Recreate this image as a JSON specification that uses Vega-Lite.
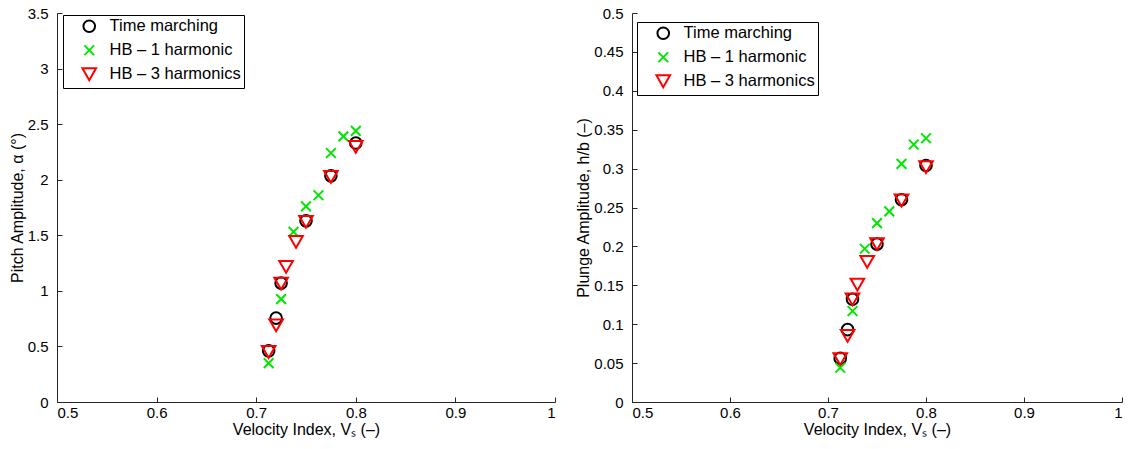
{
  "$schema": "https://vega.github.io/schema/vega-lite/v6.json",
  "background": "white",
  "padding": {"left": 9, "top": 6, "right": 5, "bottom": 5},
  "bounds": "flush",
  "spacing": 77,
  "config": {
    "font": "Liberation Sans",
    "view": {"stroke": null},
    "axis": {
      "grid": false,
      "domainColor": "#262626",
      "tickColor": "#262626",
      "labelColor": "#000000",
      "titleColor": "#000000",
      "labelFontSize": 15,
      "titleFontSize": 16,
      "titleFontWeight": "normal",
      "labelFont": "Liberation Sans",
      "titleFont": "Liberation Sans",
      "tickSize": -5,
      "labelOverlap": false
    },
    "axisX": {"labelPadding": 8, "titlePadding": 1},
    "axisY": {"labelPadding": 14, "titlePadding": 2},
    "legend": {
      "title": null,
      "strokeColor": "#000000",
      "fillColor": "#ffffff",
      "padding": 3,
      "labelFontSize": 16.5,
      "labelFont": "Liberation Sans",
      "labelColor": "#000000",
      "symbolStrokeWidth": 2,
      "labelOffset": 12,
      "rowPadding": 4
    }
  },
  "resolve": {
    "scale": {"color": "independent", "shape": "independent", "size": "independent"},
    "legend": {"color": "independent", "shape": "independent", "size": "independent"}
  },
  "hconcat": [
    {
      "width": 498,
      "height": 389,
      "data": {
        "values": [
          {"x": 0.7125, "y": 0.46, "series": "Time marching"},
          {"x": 0.72, "y": 0.755, "series": "Time marching"},
          {"x": 0.725, "y": 1.07, "series": "Time marching"},
          {"x": 0.75, "y": 1.63, "series": "Time marching"},
          {"x": 0.775, "y": 2.035, "series": "Time marching"},
          {"x": 0.8, "y": 2.33, "series": "Time marching"},
          {"x": 0.7125, "y": 0.35, "series": "HB – 1 harmonic"},
          {"x": 0.725, "y": 0.925, "series": "HB – 1 harmonic"},
          {"x": 0.7375, "y": 1.53, "series": "HB – 1 harmonic"},
          {"x": 0.75, "y": 1.76, "series": "HB – 1 harmonic"},
          {"x": 0.7625, "y": 1.86, "series": "HB – 1 harmonic"},
          {"x": 0.775, "y": 2.24, "series": "HB – 1 harmonic"},
          {"x": 0.7875, "y": 2.39, "series": "HB – 1 harmonic"},
          {"x": 0.8, "y": 2.44, "series": "HB – 1 harmonic"},
          {"x": 0.7125, "y": 0.45, "series": "HB – 3 harmonics"},
          {"x": 0.72, "y": 0.69, "series": "HB – 3 harmonics"},
          {"x": 0.725, "y": 1.065, "series": "HB – 3 harmonics"},
          {"x": 0.73, "y": 1.215, "series": "HB – 3 harmonics"},
          {"x": 0.74, "y": 1.44, "series": "HB – 3 harmonics"},
          {"x": 0.75, "y": 1.62, "series": "HB – 3 harmonics"},
          {"x": 0.775, "y": 2.025, "series": "HB – 3 harmonics"},
          {"x": 0.8, "y": 2.295, "series": "HB – 3 harmonics"}
        ]
      },
      "mark": {"type": "point", "filled": false, "strokeWidth": 2, "opacity": 1},
      "encoding": {
        "x": {
          "field": "x", "type": "quantitative",
          "scale": {"domain": [0.5, 1], "nice": false, "zero": false},
          "axis": {"title": "Velocity Index, Vₛ (–)", "values": [0.5, 0.6, 0.7, 0.8, 0.9, 1], "format": ".1~f"}
        },
        "y": {
          "field": "y", "type": "quantitative",
          "scale": {"domain": [0, 3.5], "nice": false},
          "axis": {"title": "Pitch Amplitude, α (°)", "values": [0, 0.5, 1, 1.5, 2, 2.5, 3, 3.5], "format": ".1~f"}
        },
        "color": {
          "field": "series", "type": "nominal",
          "scale": {"domain": ["Time marching", "HB – 1 harmonic", "HB – 3 harmonics"], "range": ["#000000", "#00e600", "#ff0000"]},
          "legend": {"symbolOffset": 15, "orient": "none", "legendX": 6, "legendY": 2}
        },
        "shape": {
          "field": "series", "type": "nominal",
          "scale": {"domain": ["Time marching", "HB – 1 harmonic", "HB – 3 harmonics"], "range": ["circle", "M-1,-1L1,1M-1,1L1,-1", "triangle-down"]}
        },
        "size": {
          "field": "series", "type": "nominal",
          "scale": {"type": "ordinal", "domain": ["Time marching", "HB – 1 harmonic", "HB – 3 harmonics"], "range": [135, 95, 185]}
        }
      }
    },
    {
      "width": 490,
      "height": 389,
      "data": {
        "values": [
          {"x": 0.7125, "y": 0.056, "series": "Time marching"},
          {"x": 0.72, "y": 0.093, "series": "Time marching"},
          {"x": 0.725, "y": 0.132, "series": "Time marching"},
          {"x": 0.75, "y": 0.203, "series": "Time marching"},
          {"x": 0.775, "y": 0.26, "series": "Time marching"},
          {"x": 0.8, "y": 0.304, "series": "Time marching"},
          {"x": 0.7125, "y": 0.044, "series": "HB – 1 harmonic"},
          {"x": 0.725, "y": 0.117, "series": "HB – 1 harmonic"},
          {"x": 0.7375, "y": 0.197, "series": "HB – 1 harmonic"},
          {"x": 0.75, "y": 0.23, "series": "HB – 1 harmonic"},
          {"x": 0.7625, "y": 0.245, "series": "HB – 1 harmonic"},
          {"x": 0.775, "y": 0.306, "series": "HB – 1 harmonic"},
          {"x": 0.7875, "y": 0.331, "series": "HB – 1 harmonic"},
          {"x": 0.8, "y": 0.339, "series": "HB – 1 harmonic"},
          {"x": 0.7125, "y": 0.055, "series": "HB – 3 harmonics"},
          {"x": 0.72, "y": 0.085, "series": "HB – 3 harmonics"},
          {"x": 0.725, "y": 0.132, "series": "HB – 3 harmonics"},
          {"x": 0.73, "y": 0.151, "series": "HB – 3 harmonics"},
          {"x": 0.74, "y": 0.18, "series": "HB – 3 harmonics"},
          {"x": 0.75, "y": 0.203, "series": "HB – 3 harmonics"},
          {"x": 0.775, "y": 0.259, "series": "HB – 3 harmonics"},
          {"x": 0.8, "y": 0.302, "series": "HB – 3 harmonics"}
        ]
      },
      "mark": {"type": "point", "filled": false, "strokeWidth": 2, "opacity": 1},
      "encoding": {
        "x": {
          "field": "x", "type": "quantitative",
          "scale": {"domain": [0.5, 1], "nice": false, "zero": false},
          "axis": {"title": "Velocity Index, Vₛ (–)", "values": [0.5, 0.6, 0.7, 0.8, 0.9, 1], "format": ".1~f"}
        },
        "y": {
          "field": "y", "type": "quantitative",
          "scale": {"domain": [0, 0.5], "nice": false},
          "axis": {"title": "Plunge Amplitude, h/b (–)", "values": [0, 0.05, 0.1, 0.15, 0.2, 0.25, 0.3, 0.35, 0.4, 0.45, 0.5], "format": ".2~f"}
        },
        "color": {
          "field": "series", "type": "nominal",
          "scale": {"domain": ["Time marching", "HB – 1 harmonic", "HB – 3 harmonics"], "range": ["#000000", "#00e600", "#ff0000"]},
          "legend": {"symbolOffset": 15, "orient": "none", "legendX": 5, "legendY": 9}
        },
        "shape": {
          "field": "series", "type": "nominal",
          "scale": {"domain": ["Time marching", "HB – 1 harmonic", "HB – 3 harmonics"], "range": ["circle", "M-1,-1L1,1M-1,1L1,-1", "triangle-down"]}
        },
        "size": {
          "field": "series", "type": "nominal",
          "scale": {"type": "ordinal", "domain": ["Time marching", "HB – 1 harmonic", "HB – 3 harmonics"], "range": [135, 95, 185]}
        }
      }
    }
  ]
}
